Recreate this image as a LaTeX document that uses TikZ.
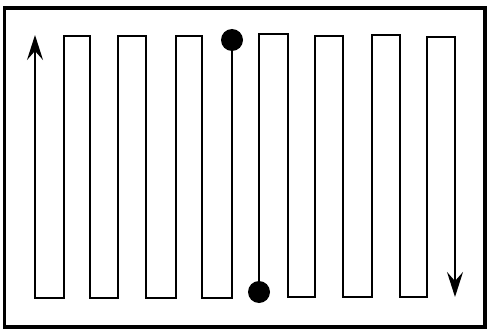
\documentclass[tikz,border=0pt]{standalone}
\usetikzlibrary{arrows.meta}
\begin{document}
\begin{tikzpicture}[x=1pt,y=-1pt,
  frame/.style={draw=black,line width=3.5pt},
  wire/.style={draw=black,line width=1.8pt,line join=miter},
  arr/.style={-{Stealth[length=25pt,width=16pt,inset=9pt]}},
  dot/.style={circle,fill=black,inner sep=0pt,minimum size=22pt}]
\useasboundingbox (0,0) rectangle (487,334);
\draw[frame] (4.5,8) rectangle (485,327);
\node[dot] (d1) at (232,40) {};
\node[dot] (d2) at (259,292) {};
% left serpentine
\coordinate (e1) at (35,35);
\draw[wire,arr] (d1.center) -- (232,298) -- (202,298) -- (202,36) -- (176,36) -- (176,298)
  -- (146,298) -- (146,36) -- (118,36) -- (118,298) -- (90,298) -- (90,36)
  -- (64,36) -- (64,298) -- (35,298) -- (e1);
% right serpentine
\coordinate (e2) at (455,297);
\draw[wire,arr] (d2.center) -- (259,34) -- (288,34) -- (288,297) -- (315,297) -- (315,36)
  -- (343,36) -- (343,297) -- (372,297) -- (372,35) -- (400,35) -- (400,297)
  -- (427,297) -- (427,37) -- (455,37) -- (e2);
\end{tikzpicture}
\end{document}
